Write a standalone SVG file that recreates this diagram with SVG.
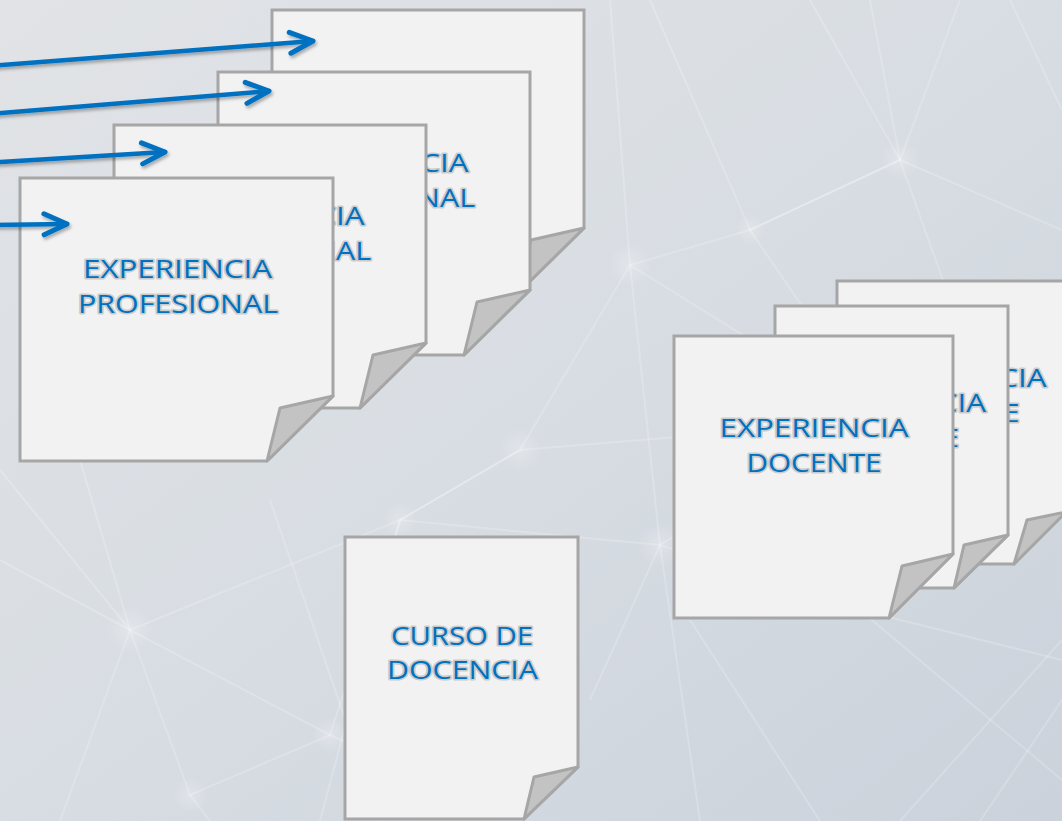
<svg xmlns="http://www.w3.org/2000/svg" width="1062" height="821" viewBox="0 0 1062 821">
  <defs>
    <linearGradient id="bg" x1="0" y1="0" x2="1" y2="1">
      <stop offset="0" stop-color="#e1e3e6"/>
      <stop offset="0.5" stop-color="#d8dde3"/>
      <stop offset="1" stop-color="#cbd2db"/>
    </linearGradient>
    <radialGradient id="dot">
      <stop offset="0" stop-color="#ffffff" stop-opacity="0.25"/>
      <stop offset="1" stop-color="#ffffff" stop-opacity="0"/>
    </radialGradient>
    <filter id="shadow" x="-10%" y="-50%" width="120%" height="200%">
      <feDropShadow dx="1.5" dy="2.5" stdDeviation="1.5" flood-color="#000" flood-opacity="0.3"/>
    </filter>
    <marker id="chev" viewBox="-30 -15 34 30" refX="0" refY="0" markerWidth="34" markerHeight="30" markerUnits="userSpaceOnUse" orient="auto" overflow="visible">
      <path d="M-23,-10.5 L0,0 L-23,10.5" fill="none" stroke="#0070c0" stroke-width="5" stroke-linecap="round" stroke-linejoin="round"/>
    </marker>
    <style>
      .page { fill: #f2f2f2; stroke: #a6a6a6; stroke-width: 3; stroke-linejoin: miter; }
      .fold { fill: #c3c3c3; stroke: #a6a6a6; stroke-width: 3; stroke-linejoin: round; }
      .lbl { font-family: "Open Sans", "Noto Sans", "Liberation Sans", sans-serif; font-size: 26px; fill: #0070c0; text-anchor: middle; stroke: #c4c4c4; stroke-width: 3.2; stroke-linejoin: round; paint-order: stroke; stroke-opacity: 0.85; }
      .arrow { fill: none; stroke: #0070c0; stroke-width: 4.5; stroke-linecap: round; marker-end: url(#chev); }
      .net { stroke: #ffffff; stroke-opacity: 0.2; stroke-width: 2; fill: none; }
    </style>
  </defs>

  <rect x="0" y="0" width="1062" height="821" fill="url(#bg)"/>
  <g id="background-network">
    <path class="net" d="M810,0 L900,160 L1062,230"/>
    <path class="net" d="M870,0 L900,160 L1000,440 L1062,520"/>
    <path class="net" d="M960,0 L900,160 L750,230 L630,265 L520,450 L400,520"/>
    <path class="net" d="M1010,0 L1062,110"/>
    <path class="net" d="M610,0 L630,265 L660,545 L700,821"/>
    <path class="net" d="M650,0 L750,230 L900,160"/>
    <path class="net" d="M750,230 L880,420 L1062,470"/>
    <path class="net" d="M520,450 L880,420 L1010,560"/>
    <path class="net" d="M630,265 L880,420"/>
    <path class="net" d="M0,470 L130,630 L400,520 L660,545 L860,610 L1062,780"/>
    <path class="net" d="M130,630 L190,795 L330,735 L520,820"/>
    <path class="net" d="M0,560 L130,630 L330,735 L400,520"/>
    <path class="net" d="M190,795 L210,821"/>
    <path class="net" d="M80,460 L130,630 L60,821"/>
    <path class="net" d="M320,821 L400,520 L520,450"/>
    <path class="net" d="M690,620 L820,821"/>
    <path class="net" d="M860,610 L1062,660"/>
    <path class="net" d="M1062,300 L920,350 L880,420"/>
    <path class="net" d="M980,821 L1062,700"/>
    <path class="net" d="M900,821 L1062,640"/>
    <path class="net" d="M590,700 L660,545 L780,470"/>
    <path class="net" d="M270,500 L380,821"/>
    <circle cx="630" cy="265" r="22" fill="url(#dot)"/>
    <circle cx="520" cy="450" r="22" fill="url(#dot)"/>
    <circle cx="660" cy="545" r="22" fill="url(#dot)"/>
    <circle cx="130" cy="630" r="24" fill="url(#dot)"/>
    <circle cx="400" cy="520" r="18" fill="url(#dot)"/>
    <circle cx="190" cy="795" r="18" fill="url(#dot)"/>
    <circle cx="330" cy="735" r="18" fill="url(#dot)"/>
    <circle cx="900" cy="160" r="20" fill="url(#dot)"/>
    <circle cx="750" cy="230" r="16" fill="url(#dot)"/>
    <circle cx="880" cy="420" r="18" fill="url(#dot)"/>
  </g>

  <!-- Experiencia profesional stack -->
  <g id="prof-4">
    <path class="page" d="M272,10 H584 V228 L518,293 H272 Z"/>
    <path class="fold" d="M584,228 L531,240 L518,293 Z"/>
    <text class="lbl" x="428" y="110" textLength="189" lengthAdjust="spacingAndGlyphs">EXPERIENCIA</text>
    <text class="lbl" x="428" y="145" textLength="200" lengthAdjust="spacingAndGlyphs">PROFESIONAL</text>
  </g>
  <g id="prof-3">
    <path class="page" d="M218,72 H530 V290 L464,355 H218 Z"/>
    <path class="fold" d="M530,290 L477,302 L464,355 Z"/>
    <text class="lbl" x="374" y="172" textLength="189" lengthAdjust="spacingAndGlyphs">EXPERIENCIA</text>
    <text class="lbl" x="375" y="207" textLength="200" lengthAdjust="spacingAndGlyphs">PROFESIONAL</text>
  </g>
  <g id="prof-2">
    <path class="page" d="M114,125 H426 V343 L360,408 H114 Z"/>
    <path class="fold" d="M426,343 L373,355 L360,408 Z"/>
    <text class="lbl" x="270" y="225" textLength="189" lengthAdjust="spacingAndGlyphs">EXPERIENCIA</text>
    <text class="lbl" x="271" y="260" textLength="200" lengthAdjust="spacingAndGlyphs">PROFESIONAL</text>
  </g>
  <g id="prof-1">
    <path class="page" d="M20,178 H333 V396 L267,461 H20 Z"/>
    <path class="fold" d="M333,396 L280,408 L267,461 Z"/>
    <text class="lbl" x="177.5" y="278" textLength="189" lengthAdjust="spacingAndGlyphs">EXPERIENCIA</text>
    <text class="lbl" x="178" y="313" textLength="200" lengthAdjust="spacingAndGlyphs">PROFESIONAL</text>
  </g>

  <!-- Experiencia docente stack -->
  <g id="doc-3">
    <path class="page" d="M837,281 H1066 V512 L1014,564 H837 Z"/>
    <path class="fold" d="M1066,512 L1027,520 L1014,564 Z"/>
    <text class="lbl" x="952" y="387" textLength="189" lengthAdjust="spacingAndGlyphs">EXPERIENCIA</text>
    <text class="lbl" x="952" y="422" textLength="135" lengthAdjust="spacingAndGlyphs">DOCENTE</text>
  </g>
  <g id="doc-2">
    <path class="page" d="M775,306 H1008 V535 L954,588 H775 Z"/>
    <path class="fold" d="M1008,535 L964,545 L954,588 Z"/>
    <text class="lbl" x="891.5" y="412" textLength="189" lengthAdjust="spacingAndGlyphs">EXPERIENCIA</text>
    <text class="lbl" x="891.5" y="447" textLength="135" lengthAdjust="spacingAndGlyphs">DOCENTE</text>
  </g>
  <g id="doc-1">
    <path class="page" d="M674,336 H953 V554 L889,618 H674 Z"/>
    <path class="fold" d="M953,554 L902,566 L889,618 Z"/>
    <text class="lbl" x="814" y="437" textLength="189" lengthAdjust="spacingAndGlyphs">EXPERIENCIA</text>
    <text class="lbl" x="814" y="472" textLength="135" lengthAdjust="spacingAndGlyphs">DOCENTE</text>
  </g>

  <!-- Curso de docencia -->
  <g id="curso">
    <path class="page" d="M345,537 H578 V767 L524,819 H345 Z"/>
    <path class="fold" d="M578,767 L534,777 L524,819 Z"/>
    <text class="lbl" x="462" y="645" textLength="142" lengthAdjust="spacingAndGlyphs">CURSO DE</text>
    <text class="lbl" x="462.5" y="679" textLength="151" lengthAdjust="spacingAndGlyphs">DOCENCIA</text>
  </g>

  <g id="connectors" filter="url(#shadow)">
    <line class="arrow" x1="-10" y1="66" x2="313" y2="41"/>
    <line class="arrow" x1="-10" y1="114" x2="269" y2="91"/>
    <line class="arrow" x1="-10" y1="162.5" x2="165" y2="152"/>
    <line class="arrow" x1="-10" y1="225" x2="67" y2="224"/>
  </g>
</svg>
